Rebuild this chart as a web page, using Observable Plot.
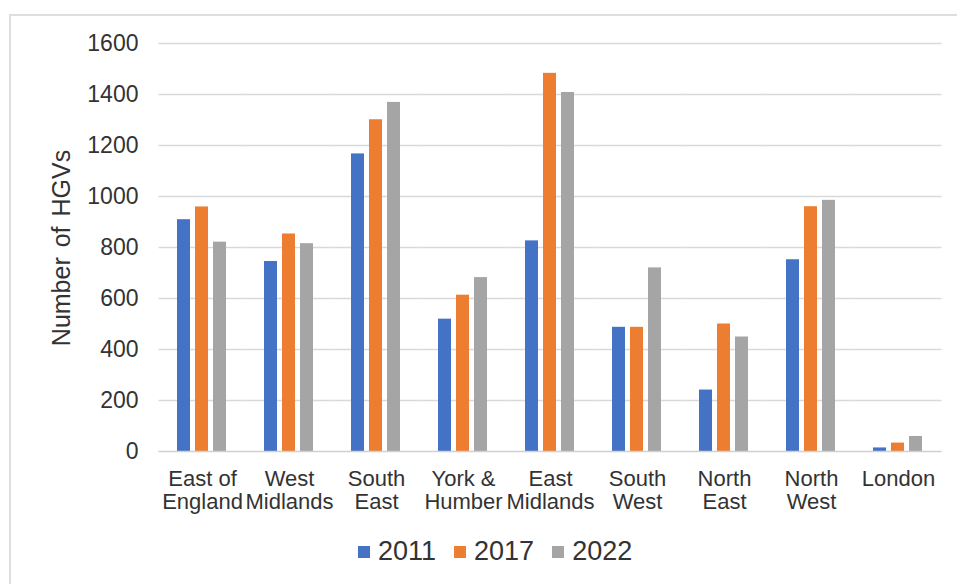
<!DOCTYPE html>
<html>
<head>
<meta charset="utf-8">
<script src="https://cdn.jsdelivr.net/npm/d3@7"></script>
<script src="https://cdn.jsdelivr.net/npm/@observablehq/plot@0.6"></script>
<style>
  html, body { margin: 0; padding: 0; background: #fff; overflow: hidden; width: 957px; height: 584px; }
  #wrap { position: relative; width: 957px; height: 584px; font-family: "Liberation Sans", Arial, sans-serif; }
  #frame { position: absolute; left: 9px; top: 14px; width: 1100px; height: 800px; border: 2px solid #dedede; box-sizing: border-box; }
  #chart { position: absolute; left: 0; top: 0; }
  #ytitle { position: absolute; left: 61px; top: 248px; transform: translate(-50%, -50%) rotate(-90deg); white-space: nowrap; font-size: 25px; color: #333; word-spacing: 3px; }
  #legend { position: absolute; left: 358px; top: 536px; display: flex; gap: 18px; font-size: 27px; color: #333; }
  #legend .item { display: flex; align-items: center; }
  #legend .sw { width: 12px; height: 12px; margin-right: 8px; }
</style>
</head>
<body>
<div id="wrap">
  <div id="frame"></div>
  <div id="chart"></div>
  <div id="ytitle"></div>
  <div id="legend"></div>
</div>
<script>
const regions = ["East of England", "West Midlands", "South East", "York & Humber", "East Midlands", "South West", "North East", "North West", "London"];
const regionLabels = ["East of\nEngland", "West\nMidlands", "South\nEast", "York &\nHumber", "East\nMidlands", "South\nWest", "North\nEast", "North\nWest", "London"];
const years = ["2011", "2017", "2022"];
const values2011 = [909, 745, 1167, 519, 826, 487, 241, 752, 14];
const values2017 = [959, 853, 1301, 613, 1483, 487, 500, 960, 33];
const values2022 = [821, 815, 1369, 682, 1408, 720, 449, 985, 59];
const yTicks = [0, 200, 400, 600, 800, 1000, 1200, 1400, 1600];
const colors = ["#4472C4", "#ED7D31", "#A5A5A5"];
const yTitle = "Number of HGVs";

const series = [values2011, values2017, values2022];
const data = [];
regions.forEach((r, i) => {
  years.forEach((y, j) => data.push({region: r, year: y, value: series[j][i]}));
});

const labelMap = new Map(regions.map((r, i) => [r, regionLabels[i]]));
const half = -17.5;

const chart = Plot.plot({
  width: 957,
  height: 530,
  marginTop: 43,
  marginBottom: 79,
  marginLeft: 157,
  marginRight: 14,
  style: { fontFamily: '"Liberation Sans", Arial, sans-serif', fontSize: "22px", color: "#333", background: "transparent" },
  fx: { domain: regions, paddingInner: 0.4, paddingOuter: 0.2, label: null },
  x: { domain: years, paddingInner: 0.26, paddingOuter: 0, axis: null },
  y: { domain: [0, 1600], ticks: yTicks, label: null },
  color: { domain: years, range: colors },
  marks: [
    Plot.ruleY(yTicks.slice(1), { stroke: "#d9d9d9", strokeWidth: 1.3, insetLeft: half, insetRight: half }),
    Plot.axisFx({ anchor: "bottom", tickSize: 0, tickPadding: 18, tickFormat: d => labelMap.get(d), lineHeight: 1.05, fontSize: 22, label: null }),
    Plot.axisY(yTicks, { tickSize: 0, tickPadding: 38, fontSize: 23, tickFormat: d => String(d), label: null }),
    Plot.barY(data, { fx: "region", x: "year", y: "value", fill: "year" }),
    Plot.ruleY([0], { stroke: "#d0d0d0", strokeWidth: 1.5, insetLeft: half, insetRight: half })
  ]
});
document.getElementById("chart").appendChild(chart);
document.getElementById("ytitle").textContent = yTitle;

const legend = document.getElementById("legend");
years.forEach((y, j) => {
  const item = document.createElement("div");
  item.className = "item";
  const sw = document.createElement("span");
  sw.className = "sw";
  sw.style.background = colors[j];
  const t = document.createElement("span");
  t.textContent = y;
  item.appendChild(sw);
  item.appendChild(t);
  legend.appendChild(item);
});
</script>
</body>
</html>
